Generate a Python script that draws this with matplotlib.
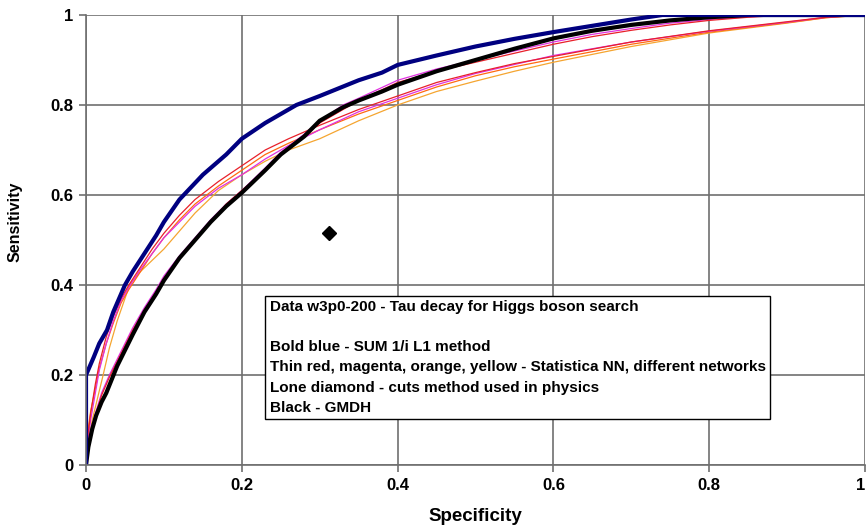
import numpy as np
import matplotlib
matplotlib.use("Agg")
import matplotlib.pyplot as plt

# ROC curves (specificity axis, sensitivity axis)
blue_x = [0, 0, 0.005, 0.01, 0.017, 0.027, 0.035, 0.045, 0.05, 0.06, 0.075, 0.09, 0.1, 0.12, 0.15, 0.18, 0.2,
          0.23, 0.27, 0.3, 0.35, 0.38, 0.4, 0.45, 0.5, 0.55, 0.6, 0.65, 0.7, 0.74, 0.8, 0.9, 1.0]
blue_y = [0, 0.2, 0.22, 0.24, 0.27, 0.3, 0.34, 0.38, 0.40, 0.43, 0.47, 0.51, 0.54, 0.59, 0.645, 0.69, 0.725,
          0.76, 0.80, 0.82, 0.855, 0.872, 0.889, 0.91, 0.93, 0.947, 0.962, 0.976, 0.99, 1.0, 1.0, 1.0, 1.0]

black_x = [0, 0.003, 0.008, 0.013, 0.02, 0.026, 0.033, 0.04, 0.05, 0.06, 0.075, 0.09, 0.1, 0.12, 0.14, 0.16, 0.18,
           0.2, 0.23, 0.25, 0.28, 0.3, 0.33, 0.35, 0.38, 0.4, 0.45, 0.5, 0.55, 0.6, 0.65, 0.7, 0.75, 0.8, 0.85,
           0.9, 1.0]
black_y = [0, 0.04, 0.08, 0.11, 0.14, 0.16, 0.19, 0.22, 0.255, 0.29, 0.34, 0.38, 0.41, 0.46, 0.5, 0.54, 0.575,
           0.605, 0.655, 0.69, 0.73, 0.765, 0.795, 0.81, 0.83, 0.845, 0.875, 0.9, 0.925, 0.948, 0.965, 0.978,
           0.988, 0.995, 1.0, 1.0, 1.0]

# thin NN curves, upper bunch
nn_up_x = [0, 0.002, 0.006, 0.012, 0.017, 0.026, 0.035, 0.045, 0.055, 0.07, 0.085, 0.1, 0.12, 0.14, 0.17, 0.2,
           0.23, 0.26, 0.3, 0.35, 0.4, 0.45, 0.5, 0.55, 0.6, 0.7, 0.8, 0.9, 0.95, 1.0]
red_y = [0, 0.06, 0.115, 0.18, 0.225, 0.285, 0.33, 0.37, 0.40, 0.44, 0.48, 0.515, 0.555, 0.59, 0.63, 0.665,
         0.7, 0.725, 0.755, 0.79, 0.82, 0.85, 0.872, 0.892, 0.908, 0.94, 0.965, 0.985, 0.995, 1.0]
magenta_y = [0, 0.05, 0.1, 0.16, 0.21, 0.27, 0.32, 0.365, 0.395, 0.435, 0.47, 0.505, 0.54, 0.575, 0.615, 0.645,
             0.68, 0.71, 0.745, 0.785, 0.815, 0.845, 0.87, 0.89, 0.91, 0.94, 0.964, 0.984, 0.995, 1.0]
orange_y = [0, 0.07, 0.12, 0.17, 0.215, 0.27, 0.315, 0.36, 0.39, 0.43, 0.47, 0.505, 0.545, 0.58, 0.62, 0.655,
            0.69, 0.715, 0.745, 0.78, 0.81, 0.84, 0.865, 0.885, 0.902, 0.935, 0.962, 0.983, 0.994, 1.0]
yellow_x = [0, 0.003, 0.008, 0.015, 0.022, 0.03, 0.04, 0.05, 0.056, 0.07, 0.085, 0.1, 0.12, 0.14, 0.17, 0.2,
            0.23, 0.26, 0.3, 0.35, 0.4, 0.45, 0.5, 0.55, 0.6, 0.7, 0.8, 0.9, 0.95, 1.0]
yellow_y = [0, 0.05, 0.1, 0.15, 0.2, 0.26, 0.32, 0.37, 0.40, 0.43, 0.455, 0.48, 0.52, 0.56, 0.61, 0.645,
            0.675, 0.7, 0.725, 0.765, 0.8, 0.83, 0.853, 0.875, 0.895, 0.93, 0.96, 0.982, 0.994, 1.0]

# thin NN curves, lower bunch (hugging the black one)
nn_low_x = [0, 0.003, 0.008, 0.013, 0.02, 0.03, 0.04, 0.05, 0.06, 0.075, 0.09, 0.1, 0.12, 0.14, 0.16, 0.18, 0.2,
            0.23, 0.25, 0.28, 0.3, 0.33, 0.35, 0.4, 0.45, 0.5, 0.55, 0.6, 0.65, 0.7, 0.75, 0.8, 0.85, 0.9, 1.0]
magenta2_y = [0, 0.05, 0.09, 0.12, 0.16, 0.2, 0.235, 0.27, 0.305, 0.35, 0.39, 0.42, 0.465, 0.505, 0.545, 0.58,
              0.61, 0.66, 0.695, 0.735, 0.765, 0.8, 0.815, 0.855, 0.88, 0.9, 0.92, 0.94, 0.957, 0.97, 0.982,
              0.99, 0.996, 1.0, 1.0]
red2_y = [0, 0.045, 0.085, 0.115, 0.155, 0.195, 0.23, 0.265, 0.3, 0.345, 0.385, 0.415, 0.46, 0.5, 0.54, 0.58,
          0.61, 0.655, 0.69, 0.73, 0.76, 0.79, 0.81, 0.85, 0.875, 0.895, 0.915, 0.935, 0.952, 0.966, 0.978,
          0.988, 0.995, 1.0, 1.0]

# cuts method point
cut_x = [0.312]
cut_y = [0.516]

ticks = [0, 0.2, 0.4, 0.6, 0.8, 1]
tick_labels = ["0", "0.2", "0.4", "0.6", "0.8", "1"]

note = ("Data w3p0-200 - Tau decay for Higgs boson search\n\n"
        "Bold blue - SUM 1/i L1 method\n"
        "Thin red, magenta, orange, yellow - Statistica NN, different networks\n"
        "Lone diamond - cuts method used in physics\n"
        "Black - GMDH")

plt.rcParams['font.family'] = ['Liberation Sans', 'DejaVu Sans']

fig = plt.figure(figsize=(8.67, 5.30), dpi=100)
ax = fig.add_axes([0.0992, 0.1226, 0.8985, 0.8491])

ax.plot(yellow_x, yellow_y, color="#F5A530", lw=0.9)
ax.plot(nn_up_x, orange_y, color="#FF6A10", lw=0.9)
ax.plot(nn_up_x, magenta_y, color="#E030E0", lw=0.9)
ax.plot(nn_up_x, red_y, color="#E8202A", lw=0.9)
ax.plot(nn_low_x, magenta2_y, color="#E030E0", lw=0.9)
ax.plot(nn_low_x, red2_y, color="#E8202A", lw=0.9)
ax.plot(black_x, black_y, color="black", lw=3)
ax.plot(blue_x, blue_y, color="#000080", lw=3)
ax.plot(cut_x, cut_y, marker="D", color="black", ms=7, ls="none")

ax.set_xlim(0, 1)
ax.set_ylim(0, 1)
ax.set_xticks(ticks)
ax.set_xticklabels(tick_labels, fontsize=12, fontweight="bold")
ax.get_xticklabels()[-1].set_ha("right")
ax.set_yticks(ticks)
ax.set_yticklabels(tick_labels, fontsize=12, fontweight="bold")
ax.grid(True, color="#707070", lw=1.2)
ax.set_axisbelow(True)
for s in ["top", "right"]:
    ax.spines[s].set_visible(False)
for s in ["left", "bottom"]:
    ax.spines[s].set_color("#707070")
    ax.spines[s].set_linewidth(1.2)
ax.tick_params(length=5, color="#707070", width=1.2, pad=4)

ax.set_xlabel("Specificity", fontsize=13.5, fontweight="bold", labelpad=11)
ax.set_ylabel("Sensitivity", fontsize=11.5, fontweight="bold")
ax.yaxis.set_label_coords(-0.081, 0.54)

ax.text(0.236, 0.366, note, fontsize=11, fontweight="bold", va="top", ha="left",
        linespacing=1.55,
        bbox=dict(boxstyle="square,pad=0.3", fc="white", ec="black", lw=1))

fig.savefig("out.png", dpi=100)
